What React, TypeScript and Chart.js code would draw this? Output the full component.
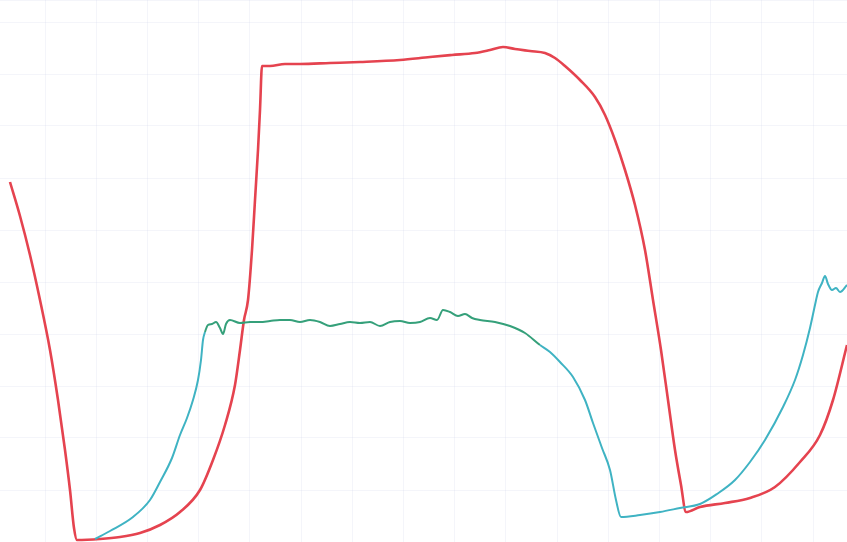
import React, { useEffect, useRef } from "react";
import { Chart, registerables } from "chart.js";

Chart.register(...registerables);

// Channel 1 (red) — time vs level
const ch1Time = [10, 20, 30, 40, 50, 58, 65, 70, 74, 77, 100, 120, 140, 160, 180, 200, 213, 225, 235, 240, 244, 248, 252, 255, 258, 260, 262, 270, 285, 300, 330, 360, 400, 430, 452, 475, 490, 503, 515, 530, 545, 555, 565, 580, 595, 605, 615, 625, 635, 645, 653, 661, 668, 675, 681, 686, 700, 725, 750, 775, 800, 820, 833, 847];
const ch1Level = [360, 326, 287, 242, 192, 142, 92, 52, 14, 2, 3, 5, 9, 17, 30, 52, 82, 117, 157, 192, 222, 242, 292, 342, 392, 432, 476, 476, 478, 478, 479, 480, 482, 485, 487, 489, 492, 495, 493, 491, 489, 484, 476, 462, 445, 427, 402, 372, 337, 292, 242, 192, 142, 92, 57, 30, 35, 39, 44, 55, 80, 107, 142, 197];

// Channel 2 (cyan / green) — time vs level
const ch2Time = [95, 110, 133, 150, 160, 172, 180, 187, 193, 198, 201, 203, 205, 208, 212, 216, 220, 223, 226, 230, 240, 250, 260, 270, 280, 290, 300, 310, 320, 330, 340, 350, 360, 370, 380, 390, 400, 410, 420, 430, 437, 443, 450, 458, 465, 472, 480, 495, 510, 525, 540, 550, 560, 573, 585, 593, 602, 610, 616, 621, 640, 660, 680, 700, 717, 735, 750, 765, 783, 795, 803, 810, 815, 818, 822, 825, 828, 832, 836, 840, 847];
const ch2Level = [3, 11, 25, 42, 60, 84, 107, 124, 142, 162, 182, 202, 210, 217, 218, 220, 214, 208, 218, 222, 219, 220, 220, 221, 222, 222, 220, 222, 220, 216, 218, 220, 219, 220, 216, 220, 221, 219, 220, 224, 222, 232, 230, 226, 228, 224, 222, 220, 216, 209, 197, 190, 180, 165, 142, 119, 94, 72, 42, 25, 27, 30, 34, 38, 48, 62, 80, 102, 135, 162, 187, 214, 237, 250, 259, 266, 258, 252, 254, 250, 257];

// Grid divisions
const xGridTicks = [45, 96.2, 147.4, 198.6, 249.8, 301, 352.2, 403.4, 454.6, 505.8, 557, 608.2, 659.4, 710.6, 761.8, 813];
const yGridStep = 52;

const W = 847;
const H = 542;

export default function App() {
  const ref = useRef<HTMLCanvasElement | null>(null);

  useEffect(() => {
    document.body.style.margin = "0";
    document.body.style.background = "#ffffff";
    const canvas = ref.current;
    if (!canvas) return;
    const ch1 = ch1Time.map((t, i) => ({ x: t, y: ch1Level[i] }));
    const ch2 = ch2Time.map((t, i) => ({ x: t, y: ch2Level[i] }));
    const chart = new Chart(canvas, {
      type: "line",
      data: {
        datasets: [
          {
            label: "CH2",
            data: ch2,
            borderColor: "#3fb3c3",
            borderWidth: 2,
            pointRadius: 0,
            cubicInterpolationMode: "monotone",
            fill: false,
            clip: false as any,
            segment: {
              borderColor: (ctx: any) => {
                const x = ctx.p0.parsed.x;
                return x >= 204 && x < 530 ? "#35a07a" : "#3fb3c3";
              },
            },
          },
          {
            label: "CH1",
            data: ch1,
            borderColor: "#e5434f",
            borderWidth: 2.6,
            pointRadius: 0,
            cubicInterpolationMode: "monotone",
            fill: false,
            clip: false as any,
          },
        ],
      },
      options: {
        animation: false,
        responsive: false,
        maintainAspectRatio: false,
        layout: { padding: 0 },
        plugins: {
          legend: { display: false },
          tooltip: { enabled: false },
        },
        scales: {
          x: {
            type: "linear",
            min: 0,
            max: W,
            afterBuildTicks: (axis: any) => {
              axis.ticks = xGridTicks.map((v) => ({ value: v }));
            },
            ticks: { display: false },
            border: { display: false },
            grid: { color: "rgba(170,180,215,0.13)", lineWidth: 1, drawTicks: false },
          },
          y: {
            type: "linear",
            min: 0,
            max: H,
            ticks: { display: false, stepSize: yGridStep },
            border: { display: false },
            grid: { color: "rgba(170,180,215,0.13)", lineWidth: 1, drawTicks: false },
          },
        },
      },
    });
    return () => chart.destroy();
  }, []);

  return (
    <div style={{ width: W, height: H, background: "#ffffff" }}>
      <canvas ref={ref} width={W} height={H} style={{ display: "block" }} />
    </div>
  );
}
